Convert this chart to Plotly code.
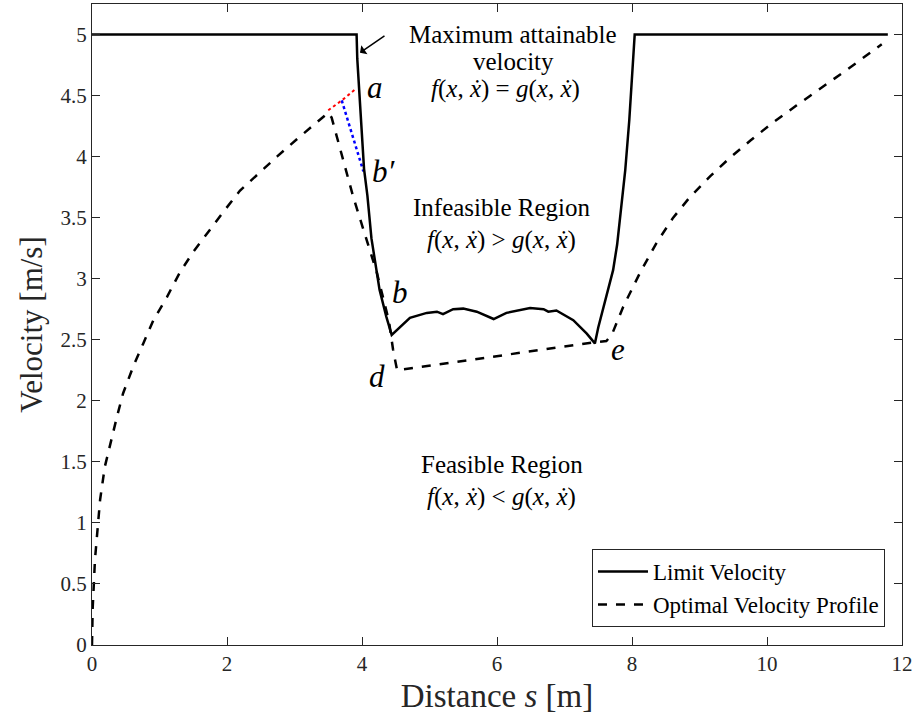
import plotly.graph_objects as go

# Limit velocity (solid)
limit_s = [0.0, 3.92, 3.93, 3.96, 3.99, 4.03, 4.08, 4.14, 4.26, 4.36, 4.44,
           4.71, 4.96, 5.11, 5.20, 5.35, 5.50, 5.70, 5.95, 6.14, 6.49, 6.69, 6.76, 6.88, 7.13, 7.33, 7.45,
           7.50, 7.57, 7.65, 7.72, 7.78, 7.82, 7.87, 7.90, 7.96, 8.01, 8.04, 11.79]
limit_v = [5.0, 5.0, 4.80, 4.47, 4.26, 3.90, 3.68, 3.33, 2.91, 2.69, 2.54,
           2.68, 2.72, 2.73, 2.71, 2.75, 2.755, 2.73, 2.67, 2.72, 2.76, 2.75, 2.73, 2.74, 2.66, 2.55, 2.47,
           2.60, 2.75, 2.92, 3.07, 3.28, 3.48, 3.70, 3.89, 4.30, 4.71, 5.0, 5.0]

# Optimal velocity profile (dashed)
opt_s = [0.0, 0.01, 0.044, 0.12, 0.19, 0.27, 0.37, 0.46, 0.61, 0.76, 0.91, 1.11, 1.30, 1.50, 1.70, 1.95,
         2.19, 2.44, 2.74, 3.03, 3.33, 3.50,
         3.55, 3.87, 4.22, 4.30, 4.40, 4.46, 4.52,
         7.45, 7.62,
         7.70, 7.87, 8.12, 8.36, 8.61, 8.86, 9.16, 9.45, 9.75, 10.09, 10.44, 10.83, 11.23, 11.70]
opt_v = [0.0, 0.30, 0.70, 1.19, 1.46, 1.65, 1.87, 2.06, 2.28, 2.47, 2.66, 2.85, 3.05, 3.22, 3.37, 3.55,
         3.72, 3.85, 4.00, 4.14, 4.28, 4.36,
         4.32, 3.67, 3.05, 2.88, 2.65, 2.42, 2.25,
         2.48, 2.49,
         2.54, 2.77, 3.05, 3.29, 3.50, 3.67, 3.84, 3.99, 4.13, 4.28, 4.42, 4.57, 4.73, 4.92]

# Construction lines
red_s = [3.50, 3.70, 3.92]
red_v = [4.38, 4.46, 4.56]
blue_s = [3.70, 4.02]
blue_v = [4.46, 3.88]

x_ticks = [0, 2, 4, 6, 8, 10, 12]
y_ticks = [0, 0.5, 1, 1.5, 2, 2.5, 3, 3.5, 4, 4.5, 5]
y_tick_text = ["0", "0.5", "1", "1.5", "2", "2.5", "3", "3.5", "4", "4.5", "5"]

FONT = "Liberation Serif"

fig = go.Figure()
fig.add_trace(go.Scatter(x=red_s, y=red_v, mode="lines", line=dict(color="red", width=2, dash="dot"),
                         showlegend=False, hoverinfo="skip"))
fig.add_trace(go.Scatter(x=blue_s, y=blue_v, mode="lines", line=dict(color="blue", width=2.5, dash="dot"),
                         showlegend=False, hoverinfo="skip"))
fig.add_trace(go.Scatter(x=limit_s, y=limit_v, mode="lines", name="Limit Velocity",
                         line=dict(color="black", width=2.5)))
fig.add_trace(go.Scatter(x=opt_s, y=opt_v, mode="lines", name="Optimal Velocity Profile",
                         line=dict(color="black", width=2.5, dash="dash")))

fx = "<i>f</i>(<i>x</i>, <i>ẋ</i>)"
gx = "<i>g</i>(<i>x</i>, <i>ẋ</i>)"
TS = 25
LS = 31
ann = [
    dict(x=6.24, y=5.0, text="Maximum attainable", size=TS),
    dict(x=6.24, y=4.78, text="velocity", size=TS),
    dict(x=6.12, y=4.55, text=fx + " = " + gx, size=TS),
    dict(x=4.19, y=4.57, text="<i>a</i>", size=LS),
    dict(x=4.33, y=3.88, text="<i>b′</i>", size=LS),
    dict(x=6.07, y=3.58, text="Infeasible Region", size=TS),
    dict(x=6.07, y=3.32, text=fx + " &gt; " + gx, size=TS),
    dict(x=4.56, y=2.89, text="<i>b</i>", size=LS),
    dict(x=4.22, y=2.20, text="<i>d</i>", size=LS),
    dict(x=7.79, y=2.42, text="<i>e</i>", size=LS),
    dict(x=6.07, y=1.475, text="Feasible Region", size=TS),
    dict(x=6.07, y=1.21, text=fx + " &lt; " + gx, size=TS),
]
for a in ann:
    fig.add_annotation(x=a["x"], y=a["y"], text=a["text"], showarrow=False,
                       font=dict(family=FONT, size=a["size"], color="black"))

fig.add_annotation(x=3.97, y=4.85, ax=26, ay=-18, text="", showarrow=True,
                   arrowhead=1, arrowsize=1.2, arrowwidth=1.5, arrowcolor="black")

axis_common = dict(showline=True, linecolor="#262626", linewidth=1, mirror="ticks",
                   ticks="inside", ticklen=8, tickcolor="#262626", showgrid=False, zeroline=False,
                   tickfont=dict(family=FONT, size=21, color="#262626"))

fig.update_xaxes(range=[0, 12], tickvals=x_ticks,
                 title=dict(text="Distance <i>s</i> [m]", font=dict(family=FONT, size=33, color="#262626"),
                            standoff=8),
                 **axis_common)
fig.update_yaxes(range=[0, 5.25], tickvals=y_ticks, ticktext=y_tick_text,
                 title=dict(text="Velocity [m/s]", font=dict(family=FONT, size=31, color="#262626"),
                            standoff=8),
                 **axis_common)

fig.update_layout(
    width=919, height=721,
    margin=dict(l=92, r=17, t=4, b=76),
    plot_bgcolor="white", paper_bgcolor="white",
    legend=dict(x=0.979, y=0.028, xanchor="right", yanchor="bottom",
                bordercolor="#262626", borderwidth=1, bgcolor="white", itemwidth=50,
                font=dict(family=FONT, size=23, color="black"), tracegroupgap=0),
)

fig.write_html("out.html")
